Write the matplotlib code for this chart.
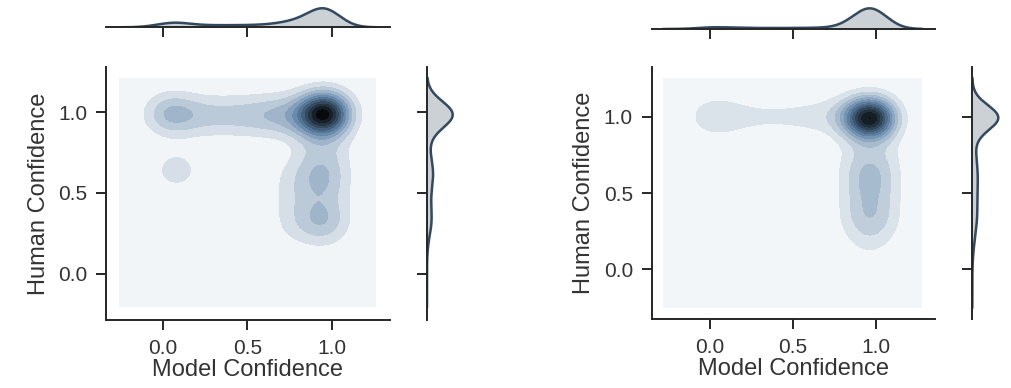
import numpy as np
import matplotlib
matplotlib.use("Agg")
import matplotlib.pyplot as plt
import matplotlib.colors as mcolors
import colorsys

# ---------------- data (weighted clusters) ----------------
# Left panel: model confidence, human confidence, relative count
left_model = [0.96,
              0.0, 0.1, 0.2, 0.3, 0.4, 0.5, 0.6, 0.7, 0.8, 0.88,
              0.05, 0.08,
              0.885, 0.885, 0.885, 0.885, 0.885, 0.885, 0.885, 0.885, 0.885, 0.885, 0.885, 0.885, 0.885, 0.885,
              0.995, 0.995, 0.995, 0.995, 0.995, 0.995, 0.995, 0.995, 0.995, 0.995, 0.995, 0.995, 0.995, 0.995,
              0.945, 0.945, 0.945,
              0.76, 0.76, 0.76]
left_human = [0.99,
              0.98, 0.98, 0.98, 0.98, 0.98, 0.98, 0.98, 0.98, 0.98, 0.98,
              1.0, 0.64,
              0.2, 0.25, 0.3, 0.35, 0.4, 0.45, 0.5, 0.55, 0.6, 0.65, 0.7, 0.75, 0.8, 0.85,
              0.2, 0.25, 0.3, 0.35, 0.4, 0.45, 0.5, 0.55, 0.6, 0.65, 0.7, 0.75, 0.8, 0.85,
              0.33, 0.56, 0.64,
              0.3, 0.45, 0.6]
left_weight = [0.56,
               0.056, 0.056, 0.054, 0.054, 0.054, 0.056, 0.068, 0.079, 0.073, 0.073,
               0.075, 0.079,
               0.005, 0.011, 0.015, 0.015, 0.013, 0.013, 0.014, 0.015, 0.015, 0.015, 0.015, 0.015, 0.015, 0.015,
               0.005, 0.011, 0.015, 0.015, 0.013, 0.013, 0.014, 0.015, 0.015, 0.015, 0.015, 0.015, 0.015, 0.015,
               0.07, 0.034, 0.034,
               0.039, 0.039, 0.039]

# Right panel
right_model = [0.97,
               0.0, 0.1, 0.2, 0.3, 0.4, 0.5, 0.6, 0.7, 0.8, 0.88,
               0.965, 0.965, 0.965,
               0.9, 0.9, 0.9, 0.9, 0.9, 0.9, 0.9, 0.9, 0.9, 0.9, 0.9, 0.9, 0.9,
               1.03, 1.03, 1.03, 1.03, 1.03, 1.03, 1.03, 1.03, 1.03, 1.03, 1.03, 1.03, 1.03,
               0.965, 0.965, 0.965]
right_human = [0.99,
               1.0, 1.0, 1.0, 1.0, 1.0, 1.0, 1.0, 1.0, 1.0, 1.0,
               0.1, 0.15, 0.2,
               0.25, 0.3, 0.35, 0.4, 0.45, 0.5, 0.55, 0.6, 0.65, 0.7, 0.75, 0.8, 0.85,
               0.25, 0.3, 0.35, 0.4, 0.45, 0.5, 0.55, 0.6, 0.65, 0.7, 0.75, 0.8, 0.85,
               0.36, 0.55, 0.65]
right_weight = [0.62,
                0.07, 0.038, 0.027, 0.025, 0.025, 0.026, 0.03, 0.033, 0.045, 0.055,
                0.007, 0.012, 0.025,
                0.017, 0.02, 0.02, 0.02, 0.02, 0.02, 0.02, 0.02, 0.02, 0.02, 0.016, 0.014, 0.012,
                0.017, 0.02, 0.02, 0.02, 0.02, 0.02, 0.02, 0.02, 0.02, 0.02, 0.016, 0.014, 0.012,
                0.03, 0.03, 0.03]

x_label = "Model Confidence"
y_label = "Human Confidence"
ticks = [0.0, 0.5, 1.0]
tick_labels = ["0.0", "0.5", "1.0"]

BASE = "#34495e"
TEXT = "#333333"
SPINE = "#262626"
FONT = "Liberation Sans"
W, H = 1012, 388

plt.rcParams["font.family"] = [FONT, "DejaVu Sans"]


def set_l(rgb, l):
    h, _, s = colorsys.rgb_to_hls(*rgb)
    return colorsys.hls_to_rgb(h, l, s)


base_rgb = mcolors.to_rgb(BASE)
cmap = mcolors.LinearSegmentedColormap.from_list(
    "blend", [set_l(base_rgb, l) for l in np.linspace(1, 0, 12)])


def kde2d(mx, my, w, bx, by, xr, yr, n=140):
    """Weighted Gaussian KDE on a grid (count-scaled density)."""
    gx = np.linspace(xr[0], xr[1], n)
    gy = np.linspace(yr[0], yr[1], n)
    xx, yy = np.meshgrid(gx, gy)
    z = np.zeros_like(xx)
    for a, b, c in zip(mx, my, w):
        z += c * np.exp(-0.5 * ((xx - a) / bx) ** 2 - 0.5 * ((yy - b) / by) ** 2)
    z /= 2 * np.pi * bx * by
    return xx, yy, z


def kde1d(v, w, bw, rng, n=300):
    g = np.linspace(rng[0], rng[1], n)
    d = np.zeros_like(g)
    for a, c in zip(v, w):
        d += c * np.exp(-0.5 * ((g - a) / bw) ** 2)
    d /= np.sqrt(2 * np.pi) * bw
    return g, d


def px_axes(fig, x0, y0, x1, y1):
    return fig.add_axes([x0 / W, 1 - y1 / H, (x1 - x0) / W, (y1 - y0) / H])


def style_ticks(ax):
    ax.tick_params(direction="out", length=7.5, width=1.4, color=SPINE,
                   labelsize=15, labelcolor=TEXT, pad=6)
    for s in ax.spines.values():
        s.set_linewidth(1.4)
        s.set_color(SPINE)


fig = plt.figure(figsize=(W / 100, H / 100), dpi=100)

panels = [
    dict(mx=left_model, my=left_human, w=left_weight, bx=0.1, by=0.09,
         xr=(-0.26, 1.26), yr=(-0.205, 1.21), xlim=(-0.337, 1.343), ylim=(-0.287, 1.28),
         main=(106, 67, 390, 320), top=(106, 7.3, 390, 27.3), right=(427, 67, 454, 320)),
    dict(mx=right_model, my=right_human, w=right_weight, bx=0.1, by=0.09,
         xr=(-0.278, 1.277), yr=(-0.249, 1.25), xlim=(-0.352, 1.358), ylim=(-0.327, 1.327),
         main=(651.7, 66.7, 935, 319.3), top=(651.7, 7.3, 935, 29), right=(972.3, 66.7, 999.6, 319.3)),
]

for p in panels:
    ax = px_axes(fig, *p["main"])
    xx, yy, z = kde2d(p["mx"], p["my"], p["w"], p["bx"], p["by"], p["xr"], p["yr"])
    levels = np.arange(0, np.ceil(z.max()) + 1.0, 1.0)
    ax.contourf(xx, yy, z, levels=levels, cmap=cmap)
    ax.set_xlim(*p["xlim"])
    ax.set_ylim(*p["ylim"])
    ax.set_xticks(ticks)
    ax.set_xticklabels(tick_labels)
    ax.set_yticks(ticks)
    ax.set_yticklabels(tick_labels)
    ax.spines["top"].set_visible(False)
    ax.spines["right"].set_visible(False)
    style_ticks(ax)
    ax.set_xlabel(x_label, fontsize=17, color=TEXT, labelpad=1)
    ax.set_ylabel(y_label, fontsize=17, color=TEXT, labelpad=6)

    # top marginal
    axt = px_axes(fig, *p["top"])
    g, d = kde1d(p["mx"], p["w"], p["bx"] * 0.9, p["xr"])
    axt.fill_between(g, 0, d, color=BASE, alpha=0.25, lw=0)
    axt.plot(g, d, color=BASE, lw=1.8)
    axt.set_xlim(*p["xlim"])
    axt.set_ylim(0, d.max() * 1.05)
    axt.set_xticks(ticks)
    axt.set_xticklabels([])
    axt.set_yticks([])
    for s in ("top", "right", "left"):
        axt.spines[s].set_visible(False)
    axt.patch.set_alpha(0)
    style_ticks(axt)

    # right marginal
    axr = px_axes(fig, *p["right"])
    g, d = kde1d(p["my"], p["w"], p["by"] * 0.9, p["yr"])
    axr.fill_betweenx(g, 0, d, color=BASE, alpha=0.25, lw=0)
    axr.plot(d, g, color=BASE, lw=1.8)
    axr.set_ylim(*p["ylim"])
    axr.set_xlim(0, d.max() * 1.05)
    axr.set_yticks(ticks)
    axr.set_yticklabels([])
    axr.set_xticks([])
    for s in ("top", "right", "bottom"):
        axr.spines[s].set_visible(False)
    axr.patch.set_alpha(0)
    style_ticks(axr)

fig.savefig("out.png", dpi=100)
